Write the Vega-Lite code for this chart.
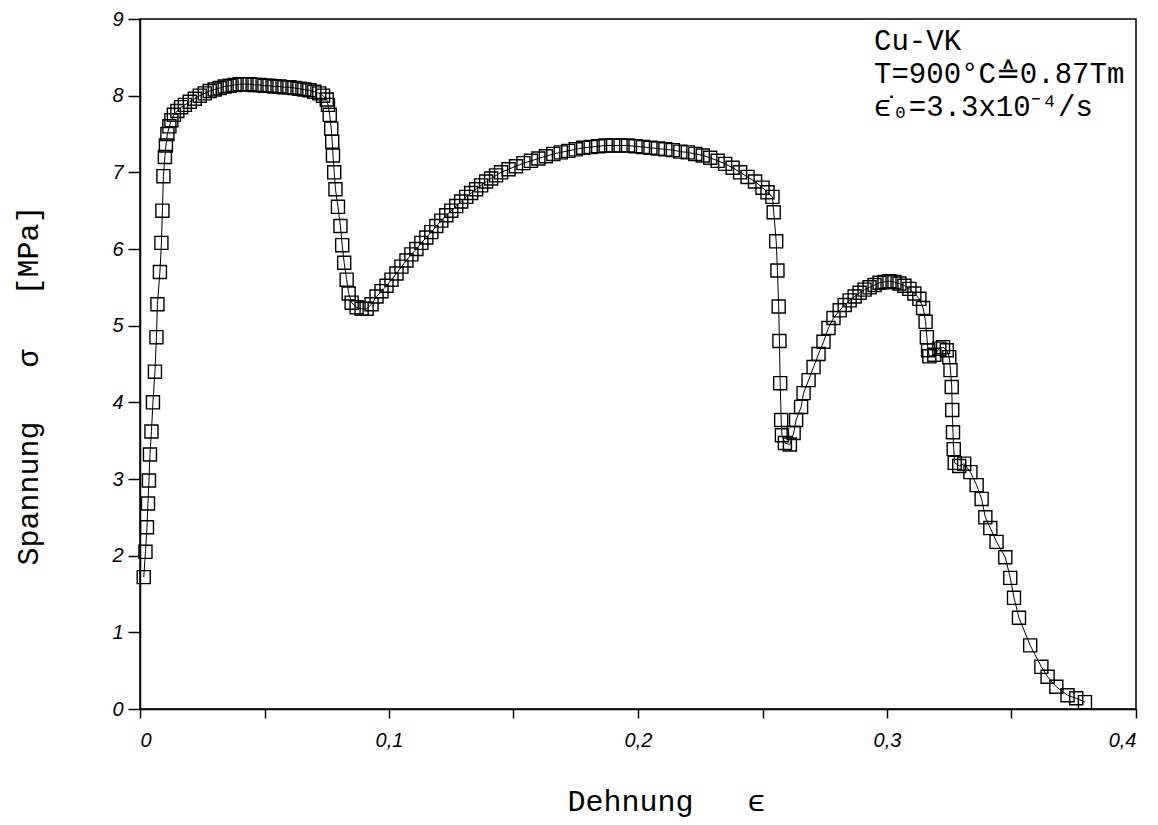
{
  "$schema": "https://vega.github.io/schema/vega-lite/v6.json",
  "autosize": {"type": "none"},
  "width": 996,
  "height": 690,
  "padding": {"left": 140, "top": 19, "right": 22, "bottom": 116},
  "background": "white",
  "config": {
    "view": {"stroke": "black", "strokeWidth": 1.5},
    "axis": {"grid": false, "domainColor": "black", "domainWidth": 1.5, "tickColor": "black", "tickWidth": 1.5,
      "labelFont": "Liberation Sans", "labelFontStyle": "italic", "labelFontSize": 20, "labelColor": "black",
      "titleFont": "Liberation Mono", "titleFontWeight": "normal", "titleFontSize": 30, "titleColor": "black"}
  },
  "layer": [
    {
      "data": {"values": [
        {"e":0.0015,"s":1.72},{"e":0.0022,"s":2.05},{"e":0.0028,"s":2.37},{"e":0.0032,"s":2.68},{"e":0.0036,"s":2.98},
        {"e":0.0040,"s":3.32},{"e":0.0046,"s":3.62},{"e":0.0052,"s":4.0},{"e":0.0060,"s":4.4},{"e":0.0066,"s":4.85},
        {"e":0.0070,"s":5.28},{"e":0.0080,"s":5.7},{"e":0.0086,"s":6.08},{"e":0.0090,"s":6.5},{"e":0.0094,"s":6.95},
        {"e":0.0100,"s":7.2},{"e":0.0104,"s":7.35},{"e":0.0110,"s":7.5},{"e":0.0118,"s":7.6},{"e":0.0126,"s":7.68},
        {"e":0.0136,"s":7.75},{"e":0.0150,"s":7.8},{"e":0.0165,"s":7.85},{"e":0.018,"s":7.88},{"e":0.020,"s":7.92},
        {"e":0.022,"s":7.96},{"e":0.024,"s":8.0},{"e":0.026,"s":8.03},{"e":0.028,"s":8.06},{"e":0.030,"s":8.08},
        {"e":0.032,"s":8.1},{"e":0.034,"s":8.12},{"e":0.036,"s":8.13},{"e":0.038,"s":8.14},{"e":0.040,"s":8.15},
        {"e":0.042,"s":8.15},{"e":0.044,"s":8.15},{"e":0.046,"s":8.14},{"e":0.048,"s":8.14},{"e":0.050,"s":8.13},
        {"e":0.052,"s":8.13},{"e":0.054,"s":8.12},{"e":0.056,"s":8.12},{"e":0.058,"s":8.11},{"e":0.060,"s":8.11},
        {"e":0.062,"s":8.1},{"e":0.064,"s":8.09},{"e":0.066,"s":8.08},{"e":0.068,"s":8.07},{"e":0.070,"s":8.05},
        {"e":0.072,"s":8.03},{"e":0.0735,"s":8.0},{"e":0.075,"s":7.95},{"e":0.0755,"s":7.88},{"e":0.0762,"s":7.75},
        {"e":0.0768,"s":7.57},{"e":0.0772,"s":7.4},{"e":0.0775,"s":7.22},{"e":0.0780,"s":7.0},{"e":0.0785,"s":6.78},
        {"e":0.0795,"s":6.55},{"e":0.0805,"s":6.3},{"e":0.0812,"s":6.05},{"e":0.0820,"s":5.82},{"e":0.0830,"s":5.6},
        {"e":0.0838,"s":5.42},{"e":0.085,"s":5.3},{"e":0.087,"s":5.24},{"e":0.089,"s":5.22},{"e":0.091,"s":5.22},
        {"e":0.093,"s":5.28},{"e":0.095,"s":5.38},{"e":0.097,"s":5.45},{"e":0.099,"s":5.52},{"e":0.101,"s":5.6},
        {"e":0.103,"s":5.68},{"e":0.105,"s":5.77},{"e":0.107,"s":5.85},{"e":0.109,"s":5.93},{"e":0.111,"s":6.0},
        {"e":0.113,"s":6.08},{"e":0.115,"s":6.15},{"e":0.117,"s":6.22},{"e":0.119,"s":6.3},{"e":0.121,"s":6.37},
        {"e":0.123,"s":6.44},{"e":0.125,"s":6.5},{"e":0.127,"s":6.56},{"e":0.129,"s":6.62},{"e":0.131,"s":6.68},
        {"e":0.133,"s":6.73},{"e":0.135,"s":6.78},{"e":0.137,"s":6.83},{"e":0.139,"s":6.88},{"e":0.141,"s":6.92},
        {"e":0.143,"s":6.96},{"e":0.145,"s":7.0},{"e":0.148,"s":7.04},{"e":0.151,"s":7.08},{"e":0.154,"s":7.12},
        {"e":0.157,"s":7.15},{"e":0.160,"s":7.18},{"e":0.163,"s":7.21},{"e":0.166,"s":7.24},{"e":0.169,"s":7.26},
        {"e":0.172,"s":7.28},{"e":0.175,"s":7.3},{"e":0.178,"s":7.32},{"e":0.181,"s":7.33},{"e":0.184,"s":7.34},
        {"e":0.187,"s":7.35},{"e":0.190,"s":7.35},{"e":0.193,"s":7.35},{"e":0.196,"s":7.35},{"e":0.199,"s":7.34},
        {"e":0.202,"s":7.33},{"e":0.205,"s":7.32},{"e":0.208,"s":7.31},{"e":0.211,"s":7.3},{"e":0.214,"s":7.29},
        {"e":0.217,"s":7.27},{"e":0.220,"s":7.26},{"e":0.223,"s":7.24},{"e":0.226,"s":7.22},{"e":0.229,"s":7.19},
        {"e":0.232,"s":7.15},{"e":0.235,"s":7.11},{"e":0.238,"s":7.06},{"e":0.241,"s":7.0},{"e":0.244,"s":6.94},
        {"e":0.247,"s":6.88},{"e":0.250,"s":6.8},{"e":0.252,"s":6.74},{"e":0.254,"s":6.68},{"e":0.2545,"s":6.48},
        {"e":0.2555,"s":6.1},{"e":0.256,"s":5.72},{"e":0.2565,"s":5.25},{"e":0.2568,"s":4.8},{"e":0.2571,"s":4.25},
        {"e":0.2575,"s":3.77},{"e":0.2578,"s":3.57},{"e":0.259,"s":3.47},{"e":0.261,"s":3.45},{"e":0.2625,"s":3.6},
        {"e":0.2635,"s":3.77},{"e":0.2655,"s":3.94},{"e":0.2665,"s":4.12},{"e":0.2685,"s":4.29},{"e":0.2705,"s":4.46},
        {"e":0.2725,"s":4.63},{"e":0.2745,"s":4.79},{"e":0.2765,"s":4.97},{"e":0.2785,"s":5.1},{"e":0.281,"s":5.2},
        {"e":0.283,"s":5.27},{"e":0.285,"s":5.33},{"e":0.287,"s":5.38},{"e":0.289,"s":5.43},{"e":0.291,"s":5.47},
        {"e":0.293,"s":5.5},{"e":0.295,"s":5.53},{"e":0.297,"s":5.56},{"e":0.299,"s":5.57},{"e":0.301,"s":5.58},
        {"e":0.303,"s":5.57},{"e":0.305,"s":5.55},{"e":0.307,"s":5.52},{"e":0.309,"s":5.48},{"e":0.311,"s":5.42},
        {"e":0.313,"s":5.35},{"e":0.3145,"s":5.23},{"e":0.3155,"s":5.05},{"e":0.316,"s":4.85},{"e":0.3165,"s":4.68},
        {"e":0.317,"s":4.6},{"e":0.319,"s":4.62},{"e":0.321,"s":4.7},{"e":0.3225,"s":4.72},{"e":0.324,"s":4.68},
        {"e":0.325,"s":4.59},{"e":0.3255,"s":4.42},{"e":0.326,"s":4.2},{"e":0.3262,"s":3.9},{"e":0.3265,"s":3.61},
        {"e":0.3268,"s":3.39},{"e":0.3272,"s":3.21},{"e":0.329,"s":3.17},{"e":0.331,"s":3.2},{"e":0.3335,"s":3.09},
        {"e":0.336,"s":2.92},{"e":0.338,"s":2.74},{"e":0.3395,"s":2.5},{"e":0.3415,"s":2.36},{"e":0.344,"s":2.18},
        {"e":0.3475,"s":1.98},{"e":0.3495,"s":1.71},{"e":0.351,"s":1.45},{"e":0.353,"s":1.19},{"e":0.3575,"s":0.83},
        {"e":0.362,"s":0.55},{"e":0.3645,"s":0.42},{"e":0.368,"s":0.29},{"e":0.3725,"s":0.18},{"e":0.376,"s":0.14},
        {"e":0.3795,"s":0.09}
      ]},
      "layer": [
        {
          "mark": {"type": "line", "color": "black", "strokeWidth": 1},
          "encoding": {
            "x": {"field": "e", "type": "quantitative", "scale": {"domain": [0, 0.4], "nice": false},
              "axis": {"values": [0, 0.05, 0.1, 0.15, 0.2, 0.25, 0.3, 0.35, 0.4],
                "labelExpr": "abs(datum.value*10 - round(datum.value*10)) < 0.001 ? (datum.value == 0 ? '0' : replace(format(datum.value, '.1f'), '.', ',')) : ''",
                "tickSize": 9, "labelPadding": 12, "labelFontSize": 20,
                "title": "Dehnung\u00a0\u00a0\u00a0ϵ", "titleX": 526, "titleY": 101, "titleBaseline": "alphabetic"}},
            "y": {"field": "s", "type": "quantitative", "scale": {"domain": [0, 9], "nice": false},
              "axis": {"values": [0,1,2,3,4,5,6,7,8,9], "format": "d", "tickSize": 12, "labelPadding": 5, "labelFontSize": 20,
                "title": "Spannung\u00a0\u00a0\u00a0σ\u00a0\u00a0\u00a0[MPa]", "titleX": -112, "titleY": 366, "titleAngle": -90, "titleBaseline": "middle"}}
          }
        },
        {
          "mark": {"type": "point", "shape": "square", "filled": false, "stroke": "black", "strokeWidth": 1.4, "size": 170, "opacity": 1},
          "encoding": {
            "x": {"field": "e", "type": "quantitative"},
            "y": {"field": "s", "type": "quantitative"}
          }
        }
      ]
    },
    {
      "data": {"values": [{"label": "Cu-VK"}]},
      "mark": {"type": "text", "font": "Liberation Mono", "fontWeight": 400, "fontSize": 29, "align": "left", "baseline": "alphabetic", "lineHeight": 33, "fill": "black"},
      "encoding": {
        "x": {"datum": 0.2948},
        "y": {"datum": 8.6},
        "text": {"value": ["Cu-VK", "T=900°C≙0.87Tm", "ϵ̇₀=3.3x10⁻⁴/s"]}
      }
    }
  ]
}
